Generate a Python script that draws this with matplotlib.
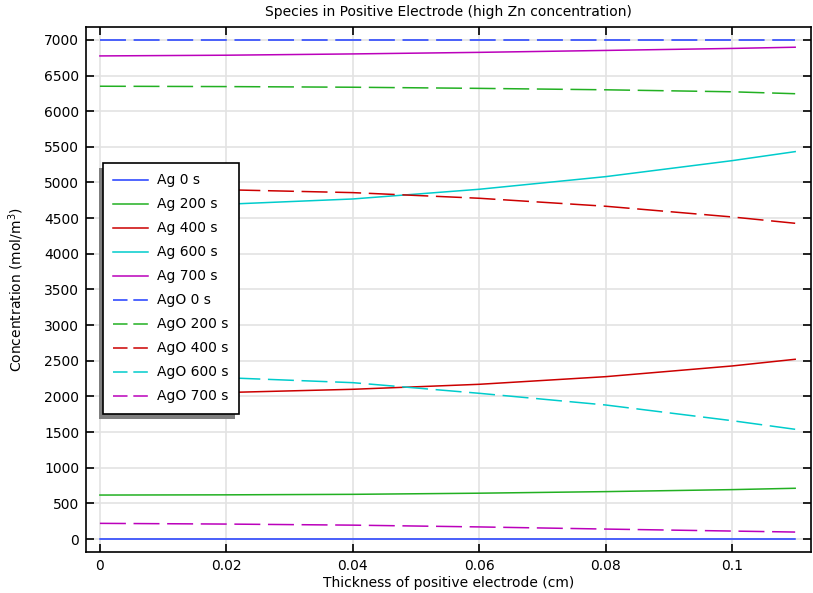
import numpy as np
import matplotlib
matplotlib.use('Agg')
import matplotlib.pyplot as plt
from matplotlib.patches import Rectangle

# thickness positions (cm) where values were read
x = [0, 0.02, 0.04, 0.06, 0.08, 0.1, 0.11]

# Ag concentration (mol/m^3)
ag_0 = [0, 0, 0, 0, 0, 0, 0]
ag_200 = [617, 620, 627, 643, 665, 693, 712]
ag_400 = [2030, 2055, 2100, 2170, 2277, 2427, 2521]
ag_600 = [4660, 4695, 4769, 4905, 5082, 5306, 5433]
ag_700 = [6775, 6785, 6803, 6825, 6852, 6880, 6897]

# AgO concentration (mol/m^3)
ago_0 = [7000, 7000, 7000, 7000, 7000, 7000, 7000]
ago_200 = [6350, 6345, 6336, 6320, 6300, 6272, 6245]
ago_400 = [4915, 4898, 4858, 4779, 4667, 4517, 4428]
ago_600 = [2290, 2262, 2193, 2044, 1880, 1660, 1539]
ago_700 = [220, 210, 195, 170, 140, 112, 98]

times = ['0 s', '200 s', '400 s', '600 s', '700 s']
colors = ['#1f3cff', '#22b022', '#cc0000', '#00cccc', '#bb00bb']

fig = plt.figure(figsize=(8.13, 5.93), dpi=100)
ax = fig.add_axes([0.1058, 0.0691, 0.8917, 0.8859])

dash = (0, (17, 5))
for t, c, ys in zip(times, colors, [ag_0, ag_200, ag_400, ag_600, ag_700]):
    ax.plot(x, ys, color=c, lw=1.1, label='Ag ' + t)
for t, c, ys in zip(times, colors, [ago_0, ago_200, ago_400, ago_600, ago_700]):
    ax.plot(x, ys, color=c, lw=1.1, ls=dash, label='AgO ' + t)

ax.set_xlim(-0.0022, 0.1125)
ax.set_ylim(-182, 7185)
ax.set_xticks([0, 0.02, 0.04, 0.06, 0.08, 0.1])
ax.set_xticklabels(['0', '0.02', '0.04', '0.06', '0.08', '0.1'])
ax.set_yticks(np.arange(0, 7001, 500))
ax.grid(True, color='#e3e3e3', lw=1.2)
ax.set_axisbelow(True)
ax.tick_params(direction='in', length=6, width=1.2, top=True, right=True,
               labelsize=10, pad=5)
for s in ax.spines.values():
    s.set_linewidth(1.2)

ax.set_title('Species in Positive Electrode (high Zn concentration)', fontsize=10, pad=8)
ax.set_xlabel('Thickness of positive electrode (cm)', fontsize=10, labelpad=2)
ax.set_ylabel('Concentration (mol/m$^3$)', fontsize=10, labelpad=13)

leg = ax.legend(loc='upper left', bbox_to_anchor=(0.0234, 0.7405), borderaxespad=0,
                fontsize=10, fancybox=False, framealpha=1, edgecolor='black',
                handlelength=2.5, handletextpad=0.65, labelspacing=0.72,
                borderpad=0.75)
leg.get_frame().set_linewidth(1.2)
# shorter dashes in the legend handles (two dashes per handle)
for h in leg.get_lines()[5:]:
    h.set_linestyle((0, (9.5, 3.8)))

# grey drop shadow on the left/bottom of the legend box
fig.canvas.draw()
bb = leg.get_window_extent().transformed(fig.transFigure.inverted())
dx, dy = 4 / 813, 5 / 593
shadow = Rectangle((bb.x0 - dx, bb.y0 - dy), bb.width, bb.height,
                   transform=fig.transFigure, facecolor='#7f7f7f', edgecolor='none',
                   zorder=leg.get_zorder() - 0.5)
ax.add_artist(shadow)
shadow.set_clip_on(False)

fig.savefig('out.png', dpi=100)
